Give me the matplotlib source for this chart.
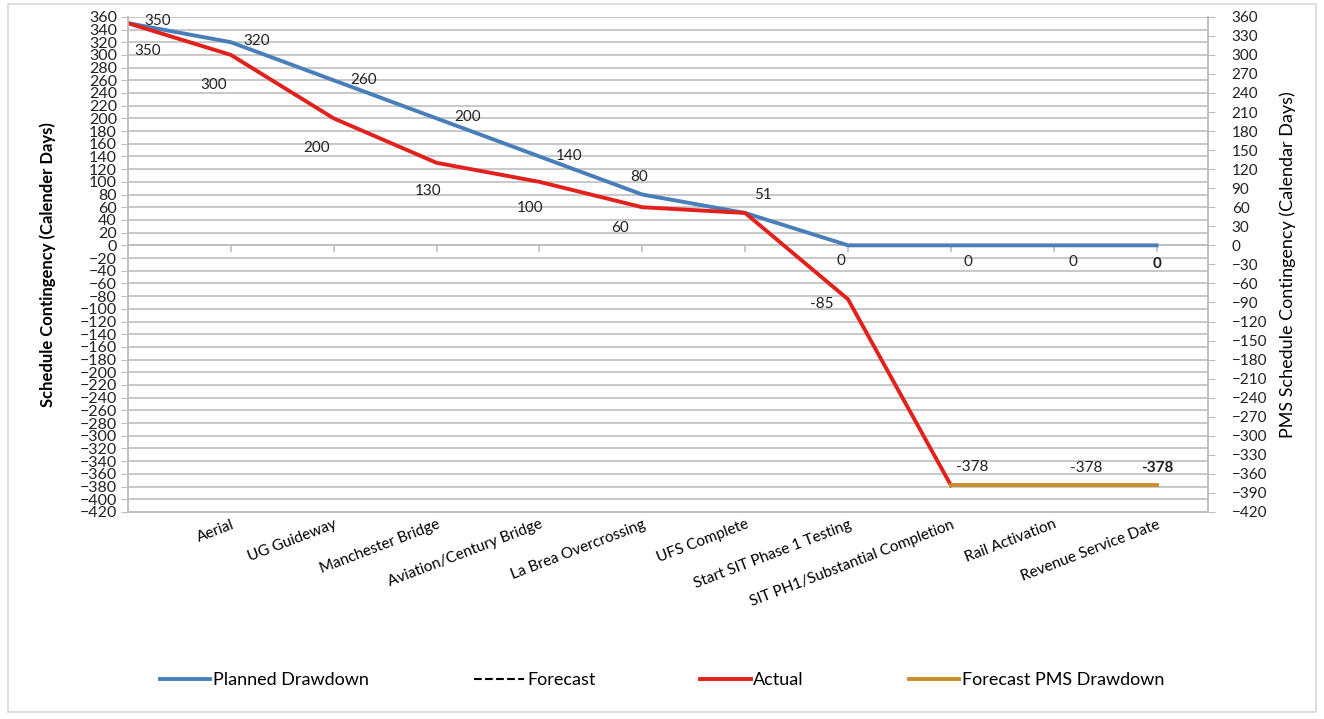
import matplotlib
matplotlib.use('Agg')
import matplotlib.pyplot as plt
from matplotlib.lines import Line2D
from matplotlib.patches import Rectangle
import numpy as np

plt.rcParams['font.family'] = ['Lato', 'DejaVu Sans']

# milestones along the horizontal axis (first slot is the starting point)
milestones = ['', 'Aerial', 'UG Guideway', 'Manchester Bridge', 'Aviation/Century Bridge',
              'La Brea Overcrossing', 'UFS Complete', 'Start SIT Phase 1 Testing',
              'SIT PH1/Substantial Completion', 'Rail Activation', 'Revenue Service Date']

planned = [350, 320, 260, 200, 140, 80, 51, 0, 0, 0, 0]
actual = [350, 300, 200, 130, 100, 60, 51, -85, -378]
forecast = []
pms_forecast = [-378, -378, -378]
pms_start = 8

blue = '#4A7EBB'
red = '#E2201C'
gold = '#CB8D2B'
grid_col = '#BFBFBF'

fig = plt.figure(figsize=(13.24, 7.19), dpi=100)
ax = fig.add_axes([0.0967, 0.288, 0.8157, 0.6886])
ax2 = ax.twinx()

x_all = np.arange(len(milestones))
x_act = np.arange(len(actual))
x_pms = np.arange(pms_start, pms_start + len(pms_forecast))

ax.plot(x_all, planned, color=blue, lw=2.8, zorder=3)
ax.plot(x_act, actual, color=red, lw=2.8, zorder=3)
ax.plot(x_pms, pms_forecast, color=gold, lw=2.8, zorder=4)
ax.plot(np.arange(len(forecast)), forecast, color='black', ls='--', lw=1.5)

ymin, ymax = -420, 360
ax.set_ylim(ymin, ymax)
ax2.set_ylim(ymin, ymax)
ax.set_xlim(0, 10.5)

ax.set_yticks(np.arange(ymin, ymax + 1, 20))
ax2.set_yticks(np.arange(ymin, ymax + 1, 30))
ax.yaxis.grid(True, color=grid_col, lw=1.2)
ax.set_axisbelow(True)

ax.tick_params(axis='y', length=5, color=grid_col, labelsize=11.5, pad=3, labelcolor='#222222')
ax2.tick_params(axis='y', length=5, color=grid_col, labelsize=11, pad=12, labelcolor='#222222')
for a in (ax, ax2):
    for s in a.spines.values():
        s.set_color(grid_col)
        s.set_linewidth(1.2)
    a.spines['top'].set_visible(False)

# category axis crosses at zero; labels stay at the bottom
ax.set_xticks(x_all)
ax.set_xticklabels(milestones, rotation=21, ha='right', rotation_mode='anchor', fontsize=11)
ax.tick_params(axis='x', length=0, pad=4)
ax.axhline(0, color=grid_col, lw=1.2, zorder=1)
ax.vlines(x_all[1:], -10, 0, color=grid_col, lw=1.2, zorder=1)

ax.set_ylabel('Schedule Contingency (Calender Days)', fontsize=12, fontweight='bold', labelpad=17)
ax2.set_ylabel('PMS Schedule Contingency (Calendar Days)', fontsize=13, labelpad=9)

# value labels (offsets in pixels from each point)
planned_off = [(30, 2), (26, 1), (30, 0), (31, 1), (30, 0), (-3, 18), (18, 18),
               (-7, -16), (17, -17), (19, -17), (0, -19)]
actual_off = [(20, -28), (-17, -30), (-17, -30), (-9, -28), (-9, -26), (-22, -21), None,
              (-26, -5), (21, 18)]
pms_off = [None, (32, 17), (1, 17)]

def put_labels(xs, ys, offs, last_bold=False):
    for i, (x, y, off) in enumerate(zip(xs, ys, offs)):
        if off is None:
            continue
        bold = last_bold and i == len(xs) - 1
        ax.annotate(f'{y:g}', (x, y), xytext=off, textcoords='offset pixels',
                    ha='center', va='center', fontsize=11, color='#222222',
                    fontweight='bold' if bold else 'normal', zorder=5)

put_labels(x_all, planned, planned_off, last_bold=True)
put_labels(x_act, actual, actual_off)
put_labels(x_pms, pms_forecast, pms_off, last_bold=True)

handles = [Line2D([], [], color=blue, lw=2.8),
           Line2D([], [], color='black', ls='--', lw=1.5),
           Line2D([], [], color=red, lw=2.8),
           Line2D([], [], color=gold, lw=2.8)]
labels = ['Planned Drawdown', 'Forecast', 'Actual', 'Forecast PMS Drawdown']
fig.legend(handles, labels, loc='center', bbox_to_anchor=(0.5, 0.054), ncol=4,
           frameon=False, fontsize=13, handlelength=2.8, handletextpad=0.15,
           columnspacing=5.8)

fig.patches.append(Rectangle((0.006, 0.01), 0.988, 0.984, transform=fig.transFigure,
                             fill=False, edgecolor='#D9D9D9', lw=1.2))

fig.savefig('out.png', dpi=100)
